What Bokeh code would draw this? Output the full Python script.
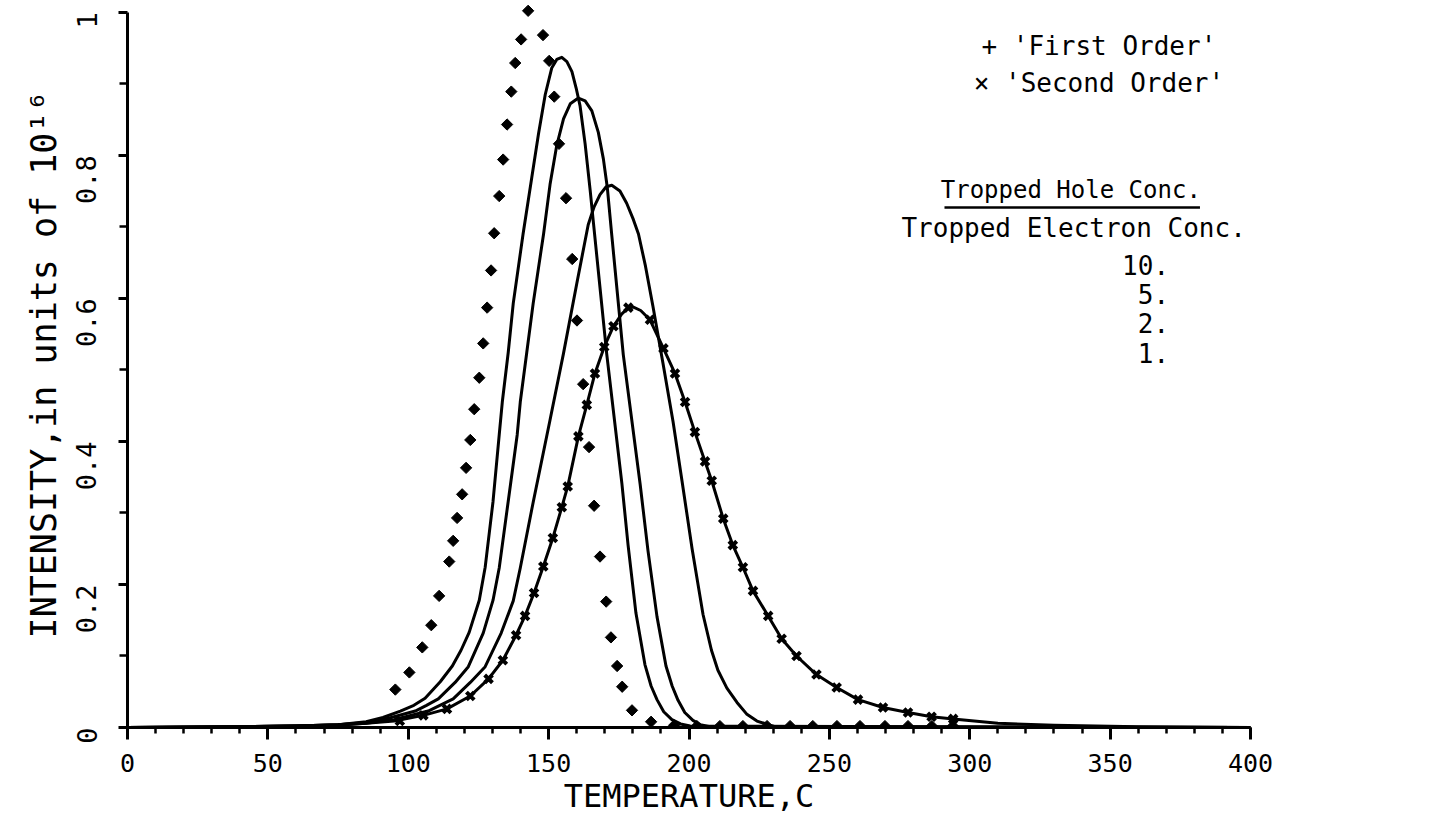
import math
from bokeh.plotting import figure
from bokeh.models import FixedTicker, Label, Range1d
from bokeh.embed import file_html
from bokeh.resources import INLINE

FONT = "DejaVu Sans Mono"

# ---- tick labels ----
x_ticks = [0, 50, 100, 150, 200, 250, 300, 350, 400]
x_minor = list(range(0, 401, 10))
y_ticks = [0, 0.2, 0.4, 0.6, 0.8, 1.0]
y_tick_labels = ["0", "0.2", "0.4", "0.6", "0.8", "1"]
y_minor = [0.1, 0.3, 0.5, 0.7, 0.9]

# ---- 'First Order' markers (temperature C, intensity) ----
fo_temp = [95.4, 100.4, 105.0, 108.2, 111.0, 114.6, 116.0, 117.4, 119.2, 120.6, 122.1,
           123.5, 125.3, 126.7, 128.1, 129.5, 130.6, 132.4, 133.8, 135.2, 136.7, 138.1,
           140.2, 142.7, 148.0, 150.2, 152.0, 153.7, 156.2, 158.4, 160.1, 162.3, 164.4,
           166.2, 168.3, 170.5, 172.2, 174.4, 176.2, 179.7, 186.5, 194.7, 202.8, 211.0,
           219.2, 227.8, 236.0, 244.1, 252.7, 260.9, 269.8, 278.0, 286.5, 294.0]
fo_int = [0.053, 0.077, 0.112, 0.143, 0.184, 0.232, 0.261, 0.293, 0.326, 0.363, 0.402,
          0.445, 0.489, 0.537, 0.587, 0.639, 0.691, 0.743, 0.794, 0.843, 0.889, 0.929,
          0.962, 1.002, 0.968, 0.932, 0.882, 0.816, 0.740, 0.655, 0.569, 0.480, 0.392,
          0.310, 0.239, 0.176, 0.126, 0.086, 0.057, 0.024, 0.008, 0.003, 0.002, 0.002,
          0.002, 0.002, 0.002, 0.002, 0.002, 0.002, 0.002, 0.002, 0.002, 0.002]

# ---- 'Second Order' markers ----
so_temp = [97.0, 105.4, 113.8, 122.1, 128.6, 133.7, 138.4, 141.6, 144.8, 148.1, 151.5,
           154.7, 156.8, 160.6, 163.6, 166.5, 169.8, 173.1, 178.4, 186.1, 190.9, 195.0,
           198.6, 202.1, 205.7, 208.1, 212.2, 215.6, 219.2, 222.8, 228.2, 233.0, 238.3,
           245.4, 252.6, 260.2, 269.1, 278.0, 286.4, 294.1]
so_int = [0.009, 0.017, 0.026, 0.044, 0.068, 0.094, 0.129, 0.156, 0.188, 0.225, 0.265,
          0.308, 0.337, 0.407, 0.451, 0.495, 0.532, 0.561, 0.587, 0.570, 0.530, 0.495,
          0.455, 0.413, 0.372, 0.345, 0.292, 0.255, 0.224, 0.191, 0.156, 0.124, 0.100,
          0.074, 0.056, 0.039, 0.028, 0.021, 0.015, 0.012]

# ---- solid curves: trapped hole conc. / trapped electron conc. ----
ratio_labels = ["10.", "5.", "2.", "1."]

r10_temp = [0, 40, 60, 75, 85, 91, 97.2, 102.0, 106.0, 111.4, 115.7, 118.8, 121.7, 125.3,
            127.4, 130.2, 132.4, 133.5, 135.6, 137.4, 140.9, 144.0, 146.4, 148.8, 151.1,
            152.9, 154.7, 156.5, 158.3, 159.8, 161.2, 163.0, 164.8, 166.0, 170.7, 176.1,
            178.3, 181.1, 184.3, 186.5, 188.6, 191.0, 193.9, 197.0, 200.4, 400]
r10_int = [0.0, 0.001, 0.002, 0.004, 0.008, 0.014, 0.023, 0.031, 0.041, 0.064, 0.086,
           0.108, 0.133, 0.178, 0.224, 0.316, 0.409, 0.455, 0.524, 0.593, 0.690, 0.769,
           0.830, 0.885, 0.922, 0.934, 0.937, 0.931, 0.917, 0.894, 0.869, 0.816, 0.751,
           0.704, 0.522, 0.341, 0.255, 0.160, 0.088, 0.058, 0.039, 0.022, 0.011, 0.005,
           0.002, 0.0]

r5_temp = [0, 40, 60, 75, 85, 93, 102.5, 106.5, 110.7, 116.7, 121.4, 126.7, 130.2, 132.4,
           135.6, 138.8, 139.9, 142.2, 144.5, 148.2, 150.5, 152.9, 155.3, 157.7, 160.6,
           163.0, 165.4, 167.7, 169.5, 170.9, 172.5, 176.6, 182.6, 185.4, 188.6, 191.8,
           194.0, 196.1, 198.5, 201.4, 204.0, 207.5, 400]
r5_int = [0.0, 0.001, 0.002, 0.004, 0.007, 0.013, 0.023, 0.031, 0.040, 0.063, 0.085,
          0.132, 0.178, 0.223, 0.316, 0.409, 0.455, 0.524, 0.593, 0.690, 0.759, 0.814,
          0.851, 0.872, 0.880, 0.876, 0.862, 0.832, 0.795, 0.755, 0.688, 0.521, 0.340,
          0.247, 0.155, 0.086, 0.058, 0.038, 0.021, 0.010, 0.004, 0.001, 0.0]

r2_temp = [0, 40, 60, 75, 85, 95, 107.1, 116.0, 122.1, 127.4, 133.1, 137.4, 139.9, 144.5,
           150.5, 155.3, 160.0, 164.1, 166.2, 168.3, 170.5, 172.5, 175.4, 177.8, 180.2,
           182.0, 184.5, 187.2, 190.7, 194.3, 197.5, 201.1, 205.0, 208.0, 210.3, 213.5,
           217.1, 220.5, 224.2, 230.6, 400]
r2_int = [0.0, 0.001, 0.002, 0.004, 0.006, 0.011, 0.023, 0.040, 0.063, 0.085, 0.132,
          0.177, 0.223, 0.315, 0.430, 0.523, 0.620, 0.703, 0.728, 0.745, 0.756, 0.758,
          0.750, 0.733, 0.710, 0.690, 0.645, 0.588, 0.510, 0.428, 0.345, 0.250, 0.158,
          0.108, 0.080, 0.055, 0.035, 0.019, 0.009, 0.001, 0.0]

r1_temp = [0, 40, 60, 75, 85, 95.0, 105.4, 113.8, 122.1, 128.6, 133.7, 138.4, 141.6, 144.8,
           148.1, 151.5, 154.7, 156.8, 160.6, 163.6, 166.5, 169.8, 173.1, 176.0, 178.4,
           180.0, 182.8, 186.1, 190.9, 195.0, 198.6, 202.1, 205.7, 208.1, 212.2, 215.6,
           219.2, 222.8, 228.2, 233.0, 238.3, 245.4, 252.6, 260.2, 269.1, 278.0, 286.4,
           294.1, 310, 330, 360, 400]
r1_int = [0.0, 0.001, 0.002, 0.003, 0.006, 0.009, 0.017, 0.026, 0.044, 0.068, 0.094,
          0.129, 0.156, 0.188, 0.225, 0.265, 0.308, 0.337, 0.407, 0.451, 0.495, 0.532,
          0.561, 0.578, 0.587, 0.588, 0.583, 0.570, 0.530, 0.495, 0.455, 0.413, 0.372,
          0.345, 0.292, 0.255, 0.224, 0.191, 0.156, 0.124, 0.100, 0.074, 0.056, 0.039,
          0.028, 0.021, 0.015, 0.012, 0.006, 0.003, 0.001, 0.0]

curves = [(r10_temp, r10_int), (r5_temp, r5_int), (r2_temp, r2_int), (r1_temp, r1_int)]

p = figure(width=1447, height=817, x_range=Range1d(0, 400), y_range=Range1d(0, 1.015),
           output_backend="svg", toolbar_location=None,
           min_border_left=127, min_border_right=197, min_border_top=1, min_border_bottom=90)
p.outline_line_color = None
p.grid.visible = False
p.background_fill_color = "white"
p.border_fill_color = "white"

for tx, iy in curves:
    p.line(tx, iy, line_color="black", line_width=3, line_join="round")

p.scatter(fo_temp, fo_int, marker="square", angle=math.pi / 4, size=8,
          fill_color="black", line_color="black")
p.scatter(so_temp, so_int, marker="x", size=11, line_color="black", line_width=4)

# axes
xa = p.xaxis[0]
xa.ticker = FixedTicker(ticks=x_ticks, minor_ticks=x_minor)
xa.axis_line_width = 3
xa.major_tick_line_width = 3
xa.minor_tick_line_width = 2.5
xa.major_tick_in = 0
xa.major_tick_out = 12
xa.minor_tick_in = 0
xa.minor_tick_out = 6
xa.major_label_text_font = FONT
xa.major_label_text_font_size = "25px"
xa.major_label_text_color = "black"
xa.major_label_standoff = 14
xa.axis_label = "TEMPERATURE,C"
xa.axis_label_text_font = FONT
xa.axis_label_text_font_size = "32px"
xa.axis_label_text_font_style = "normal"
xa.axis_label_text_color = "black"
xa.axis_label_standoff = 2

ya = p.yaxis[0]
ya.ticker = FixedTicker(ticks=y_ticks, minor_ticks=y_minor)
ya.bounds = (0, 1)
ya.major_label_overrides = {t: s for t, s in zip(y_ticks, y_tick_labels)}
ya.major_label_orientation = math.pi / 2
ya.axis_line_width = 3
ya.major_tick_line_width = 3
ya.minor_tick_line_width = 2.5
ya.major_tick_in = 0
ya.major_tick_out = 9
ya.minor_tick_in = 0
ya.minor_tick_out = 8
ya.major_label_text_font = FONT
ya.major_label_text_font_size = "27px"
ya.major_label_text_color = "black"
ya.major_label_standoff = 32
ya.axis_label = "INTENSITY,in units of 10\u00b9\u2076"
ya.axis_label_text_font = FONT
ya.axis_label_text_font_size = "35px"
ya.axis_label_text_font_style = "normal"
ya.axis_label_text_color = "black"
ya.axis_label_standoff = 0

# key text
def lab(x, y, t, align="center", size="26px"):
    p.add_layout(Label(x=x, y=y, text=t, text_font=FONT, text_font_size=size,
                       text_color="black", text_align=align, text_baseline="middle"))

lab(346, 0.953, "+ 'First Order'")
lab(346, 0.901, "\u00d7 'Second Order'")
lab(336, 0.751, "Tropped Hole Conc.", size="24px")
p.segment(x0=[291], y0=[0.727], x1=[382], y1=[0.727], line_color="black", line_width=2.5)
lab(337, 0.698, "Tropped Electron Conc.")
for i, t in enumerate(ratio_labels):
    lab(371, 0.647 - i * 0.041, t, align="right")

open("out.html", "w").write(file_html(p, INLINE))
